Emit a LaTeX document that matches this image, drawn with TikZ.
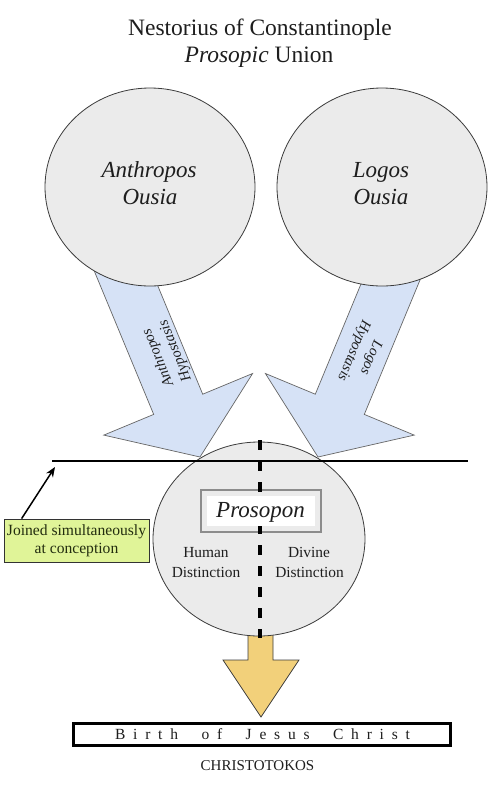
\documentclass[tikz,border=0pt]{standalone}
\usepackage{fontspec}
\setmainfont{Liberation Serif}
\usetikzlibrary{shapes.geometric,arrows.meta}
\definecolor{cgray}{RGB}{235,235,235}
\definecolor{cblue}{RGB}{214,226,246}
\definecolor{cyel}{RGB}{242,208,122}
\definecolor{clime}{RGB}{224,244,152}
\definecolor{cline}{RGB}{60,60,60}
\definecolor{ctext}{RGB}{30,30,30}
\begin{document}
\begin{tikzpicture}[x=1pt,y=-1pt,
  ousia/.style={ellipse, draw=cline, line width=0.8pt, fill=cgray, inner sep=0pt},
  hyparrow/.style={draw=black!60, line width=0.7pt, fill=cblue},
  lbl/.style={inner sep=0pt, anchor=base, text=ctext},
  bigit/.style={font=\fontsize{23}{27}\selectfont\itshape},
  midtxt/.style={font=\fontsize{15.4}{19}\selectfont},
  hyplbl/.style={font=\fontsize{14.8}{18.5}\selectfont\itshape, align=center, inner sep=0pt, text=ctext},
  ]
\useasboundingbox (0,0) rectangle (498,796);
\fill[white] (0,0) rectangle (498,796);

% hypostasis arrows
\draw[hyparrow] (128.8,215.9) -- (202.7,394.2) -- (252.6,373.5) -- (200,457) -- (103.8,435.1) -- (153.7,414.4) -- (79.8,236.1) -- cycle;
\draw[hyparrow] (389.2,215.9) -- (315.3,394.2) -- (265.4,373.5) -- (318,457) -- (414.2,435.1) -- (364.3,414.4) -- (438.2,236.1) -- cycle;

% ousia circles
\node[ousia, minimum width=210pt, minimum height=198pt] (anth) at (150,187) {};
\node[ousia, minimum width=210pt, minimum height=198pt] (logos) at (382,187) {};

% titles
\node[lbl, font=\fontsize{23.5}{27}\selectfont] (t1) at (260,35) {Nestorius of Constantinople};
\node[lbl, font=\fontsize{23.5}{27}\selectfont] (t2) at (259,62) {\textit{Prosopic} Union};

\node[lbl, bigit] (a1) at (149,177) {Anthropos};
\node[lbl, bigit] (a2) at (150,204) {Ousia};
\node[lbl, bigit] (l1) at (381,177) {Logos};
\node[lbl, bigit] (l2) at (381,204) {Ousia};

\node[hyplbl, rotate=112.5] (lh) at (167,354) {Anthropos\\Hypostasis};
\node[hyplbl, rotate=247.5] (rh) at (362,354) {Logos\\Hypostasis};

% birth arrow
\draw[draw=cline, line width=0.8pt, fill=cyel] (248,620) -- (248,660) -- (223,660) -- (261,717) -- (299,660) -- (273,660) -- (273,620) -- cycle;

% prosopon circle
\node[ousia, minimum width=212pt, minimum height=194pt] (pros) at (259,539) {};

% conception line
\coordinate (hl) at (52,461);
\coordinate (hr) at (468,461);
\draw[line width=1.8pt] (hl) -- (hr);

% prosopon box and divider
\node[draw=black!45, line width=1.2pt, minimum width=120pt, minimum height=42pt, inner sep=0pt] (pbox) at (261,511) {};
\coordinate (dtop) at (260,440);
\coordinate (dbot) at (260,638);
\draw[line width=4pt, dash pattern=on 10pt off 11pt] (dtop) -- (dbot);
\node[fill=white, minimum width=108pt, minimum height=30pt, inner sep=0pt] (pin) at (261,511) {};
\node[lbl, bigit] (ptxt) at (260.5,517) {Prosopon};

\node[lbl, midtxt] (h1) at (206,557) {Human};
\node[lbl, midtxt] (h2) at (206,577) {Distinction};
\node[lbl, midtxt] (d1) at (309,557) {Divine};
\node[lbl, midtxt] (d2) at (309.5,577) {Distinction};

% joined box
\node[draw=black!80, line width=0.8pt, fill=clime, minimum width=145pt, minimum height=43pt, inner sep=0pt, align=center, font=\fontsize{15.6}{18.5}\selectfont, text={rgb,255:red,35;green,45;blue,15}] (join) at (76.5,540.5) {Joined simultaneously\\at conception};
\coordinate (jtip) at (55,467);
\draw[line width=1.5pt, -{Stealth[length=10pt,width=8pt]}] ([xshift=18pt]join.north west) -- (jtip);

% birth box
\node[draw, line width=2.6pt, minimum width=377pt, minimum height=22.5pt, inner sep=0pt] (birth) at (262,734.5) {};
\node[lbl, font=\fontsize{15.5}{18}\selectfont] (btxt) at (262.5,739) {\makebox[295pt][s]{B\hfill i\hfill r\hfill t\hfill h\hspace{\stretch{3}}o\hfill f\hspace{\stretch{3}}J\hfill e\hfill s\hfill u\hfill s\hspace{\stretch{3}}C\hfill h\hfill r\hfill i\hfill s\hfill t}};
\node[lbl, font=\fontsize{15}{18}\selectfont] (chr) at (257.5,770) {CHRISTOTOKOS};
\end{tikzpicture}
\end{document}
